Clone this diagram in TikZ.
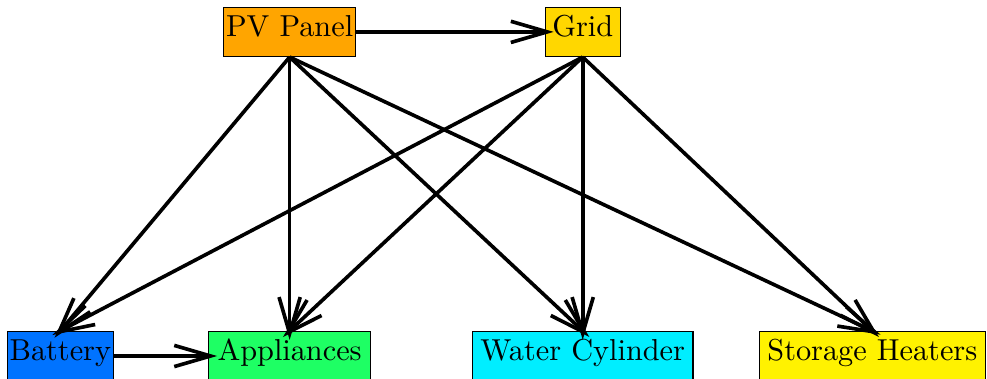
\documentclass[tikz,border=0pt]{standalone}
\usepackage{tikz}
\usetikzlibrary{arrows.meta,positioning}
\definecolor{pvcol}{RGB}{255,165,0}
\definecolor{gridcol}{RGB}{255,215,0}
\definecolor{battcol}{RGB}{0,115,255}
\definecolor{appcol}{RGB}{30,255,100}
\definecolor{watercol}{RGB}{0,238,255}
\definecolor{heatcol}{RGB}{255,242,0}
\tikzset{
  unit/.style      = {rectangle, draw, line width=0.4pt, inner sep=0pt,
                      minimum height=0.57cm, minimum width=0.87cm,
                      text height=7pt, text depth=4pt},
  flow/.style      = {-{Straight Barb[length=12pt,width=7pt]}, line width=1.2pt,
                      shorten >=-3pt},
}

\begin{document}
\begin{tikzpicture}
  \useasboundingbox (0,0) rectangle (11.45,4.39);

  % sources
  \node[unit, fill=pvcol, minimum width=1.53cm] (pv)   at (3.36,4.02) {PV Panel};
  \node[unit, fill=gridcol]                     (grid) at (6.76,4.02) {Grid};

  % loads
  \node[unit, fill=battcol, minimum width=1.23cm]  (batt)   at (0.70,0.26)  {Battery};
  \node[unit, fill=appcol, minimum width=1.88cm]   (app)    at (3.36,0.26)  {Appliances};
  \node[unit, fill=watercol, minimum width=2.56cm] (water)  at (6.76,0.26)  {Water Cylinder};
  \node[unit, fill=heatcol, minimum width=2.62cm]  (heater) at (10.12,0.26) {Storage Heaters};

  % flows
  \draw[flow] (pv.east) -- (grid.west);
  \draw[flow] (batt.east) -- (app.west);
  \foreach \dst in {batt,app,water,heater} {
    \draw[flow] (pv.south) -- (\dst.north);
    \draw[flow] (grid.south) -- (\dst.north);
  }
\end{tikzpicture}
\end{document}
